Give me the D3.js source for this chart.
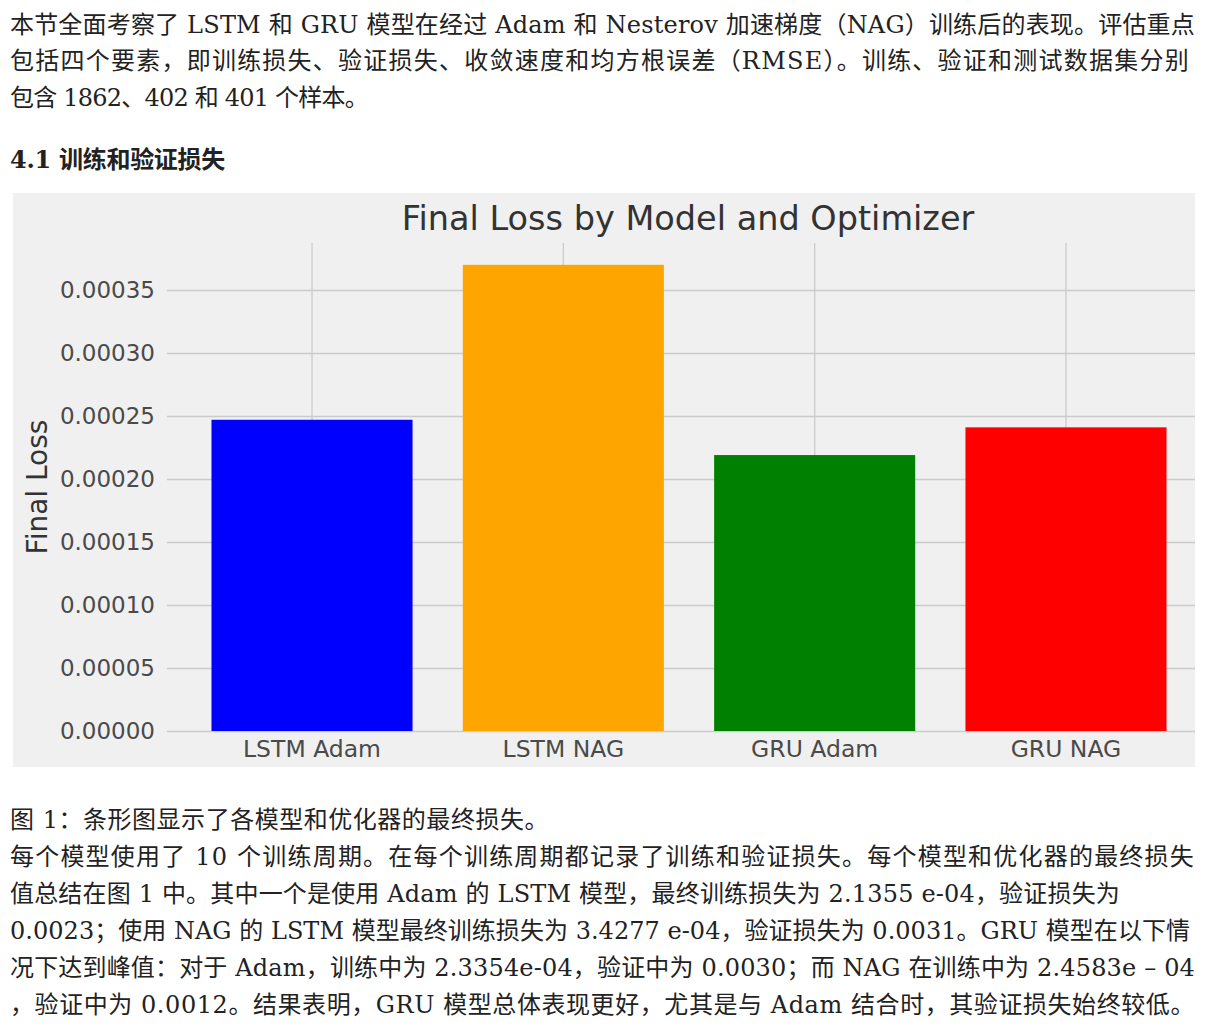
<!DOCTYPE html>
<html lang="zh-CN">
<head>
<meta charset="utf-8">
<script src="https://cdn.jsdelivr.net/npm/d3@7"></script>
<style>
  body { margin: 0; background: #fff; width: 1219px; height: 1036px; overflow: hidden; position: relative; }
  .ln { position: absolute; left: 10px; white-space: nowrap; font-family: "DejaVu Serif", "Noto Sans CJK SC", serif;
        font-size: 24px; line-height: 36px; color: #222; }
  .ln.h { font-weight: 600; }
  svg { position: absolute; left: 0; top: 0; }
</style>
</head>
<body>
<div id="text"></div>
<svg id="chart" width="1219" height="1036"></svg>
<script>
// text lines of the page: [top of line box, right edge in reference, text, class]
const textLines = [
  [7,   1195, "本节全面考察了 LSTM 和 GRU 模型在经过 Adam 和 Nesterov 加速梯度（NAG）训练后的表现。评估重点", ""],
  [43,  1190, "包括四个要素，即训练损失、验证损失、收敛速度和均方根误差（RMSE）。训练、验证和测试数据集分别", ""],
  [80,  368,  "包含 1862、402 和 401 个样本。", ""],
  [142, 225,  "4.1 训练和验证损失", "h"],
  [802, 549,  "图 1：条形图显示了各模型和优化器的最终损失。", ""],
  [839, 1195, "每个模型使用了 10 个训练周期。在每个训练周期都记录了训练和验证损失。每个模型和优化器的最终损失", ""],
  [876, 1120, "值总结在图 1 中。其中一个是使用 Adam 的 LSTM 模型，最终训练损失为 2.1355 e-04，验证损失为", ""],
  [913, 1190, "0.0023；使用 NAG 的 LSTM 模型最终训练损失为 3.4277 e-04，验证损失为 0.0031。GRU 模型在以下情", ""],
  [950, 1195, "况下达到峰值：对于 Adam，训练中为 2.3354e-04，验证中为 0.0030；而 NAG 在训练中为 2.4583e – 04", ""],
  [987, 1195, "，验证中为 0.0012。结果表明，GRU 模型总体表现更好，尤其是与 Adam 结合时，其验证损失始终较低。", ""]
];

// chart data
const models = ["LSTM Adam", "LSTM NAG", "GRU Adam", "GRU NAG"];
const finalLoss = [0.000247, 0.000370, 0.000219, 0.000241];
const barColors = ["blue", "orange", "green", "red"];
const yTicks = [0, 0.00005, 0.00010, 0.00015, 0.00020, 0.00025, 0.00030, 0.00035];

// text, stretched a little so each line ends where it does in the picture
d3.select("#text").selectAll("div")
  .data(textLines)
  .enter().append("div")
  .attr("class", d => "ln " + d[3])
  .style("top", d => d[0] + "px")
  .text(d => d[2])
  .each(function(d) {
    const w = this.getBoundingClientRect().width;
    const n = d[2].length;
    const ls = (d[1] - 10 - w) / n;
    this.style.letterSpacing = ls.toFixed(3) + "px";
  });

const svg = d3.select("#chart");
const img = { x: 13, y: 193, w: 1182, h: 574 };
const plot = { left: 167, top: 243, bottom: 731, right: 1211 };

svg.append("defs").append("clipPath").attr("id", "clip")
  .append("rect").attr("x", img.x).attr("y", img.y).attr("width", img.w).attr("height", img.h);

const g = svg.append("g").attr("clip-path", "url(#clip)");

g.append("rect")
  .attr("x", img.x).attr("y", img.y)
  .attr("width", img.w).attr("height", img.h)
  .attr("fill", "#f0f0f0");

const x = d3.scaleBand().domain(models)
  .range([plot.left, plot.right])
  .paddingInner(0.2).paddingOuter(0.177);
const y = d3.scaleLinear().domain([0, 0.00035]).range([plot.bottom, 290]);

const fontAxis = "'DejaVu Sans', sans-serif";

// y axis with grid lines
const yAxis = g.append("g")
  .attr("transform", `translate(${plot.left},0)`)
  .call(d3.axisLeft(y).tickValues(yTicks).tickFormat(d3.format(".5f"))
    .tickSize(-(plot.right - plot.left)).tickPadding(12));
yAxis.select(".domain").remove();
yAxis.selectAll(".tick line").attr("stroke", "#cbcbcb").attr("stroke-width", 1.3);
yAxis.selectAll(".tick text")
  .attr("fill", "#4a4a4a").style("font-family", fontAxis).style("font-size", "23px");

// x axis with vertical grid lines
const xAxis = g.append("g")
  .attr("transform", `translate(0,${plot.bottom})`)
  .call(d3.axisBottom(x).tickSize(-(plot.bottom - plot.top)).tickPadding(9));
xAxis.select(".domain").remove();
xAxis.selectAll(".tick line").attr("stroke", "#cbcbcb").attr("stroke-width", 1.3);
xAxis.selectAll(".tick text")
  .attr("fill", "#4a4a4a").style("font-family", fontAxis).style("font-size", "23.5px");

// bars
g.selectAll(".bar")
  .data(models)
  .enter().append("rect")
  .attr("class", "bar")
  .attr("x", d => x(d))
  .attr("width", x.bandwidth())
  .attr("y", (d, i) => y(finalLoss[i]))
  .attr("height", (d, i) => y(0) - y(finalLoss[i]))
  .attr("fill", (d, i) => barColors[i]);

// title
g.append("text")
  .attr("x", 688).attr("y", 218).attr("dy", "0.35em")
  .attr("text-anchor", "middle")
  .attr("fill", "#333")
  .style("font-family", fontAxis).style("font-size", "33.5px")
  .text("Final Loss by Model and Optimizer");

// y label
g.append("text")
  .attr("transform", "translate(37,487) rotate(-90)")
  .attr("dy", "0.35em")
  .attr("text-anchor", "middle")
  .attr("fill", "#333")
  .style("font-family", fontAxis).style("font-size", "28px")
  .text("Final Loss");
</script>
</body>
</html>
